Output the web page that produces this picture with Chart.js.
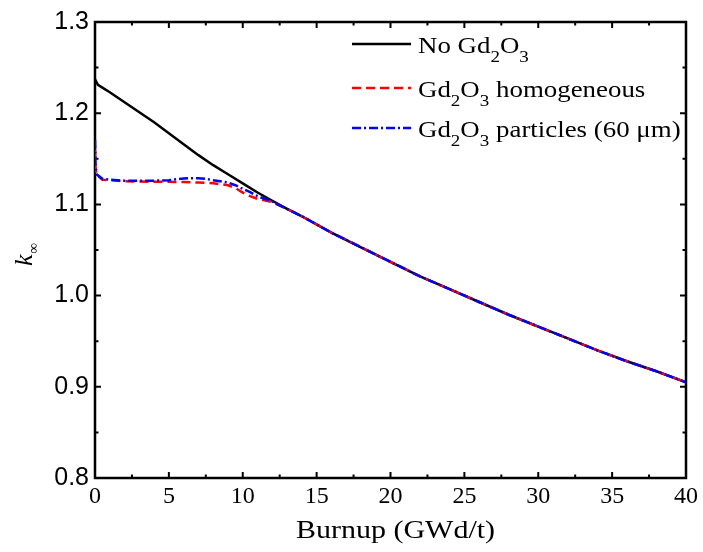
<!DOCTYPE html>
<html>
<head>
<meta charset="utf-8">
<script src="https://cdn.jsdelivr.net/npm/chart.js@4.4.1/dist/chart.umd.min.js"></script>
<style>
  html, body { margin: 0; padding: 0; background: #fff; }
  #wrap { width: 703px; height: 552px; }
</style>
</head>
<body>
<div id="wrap"><canvas id="kinfChart" width="703" height="552"></canvas></div>
<script>
// values (burnup in GWd/t, k-infinity)
const burnupNoGd = [0, 0.2, 0.5, 1, 2, 3, 4, 5, 6, 7, 8, 9, 10, 11, 12];
const kNoGd = [1.237, 1.231, 1.228, 1.223, 1.212, 1.201, 1.190, 1.178, 1.166, 1.154, 1.143, 1.133, 1.123, 1.113, 1.104];

const burnupHomog = [0, 0.03, 0.1, 0.5, 1, 2, 3, 4, 5, 6, 7, 8, 9, 9.5, 10, 10.5, 11, 12];
const kHomog = [1.160, 1.140, 1.1325, 1.127, 1.1265, 1.1255, 1.125, 1.1248, 1.1248, 1.1245, 1.124, 1.1232, 1.121, 1.118, 1.113, 1.109, 1.106, 1.1025];

const burnupPart = [0, 0.03, 0.1, 0.5, 1, 2, 3, 4, 5, 6, 7, 7.5, 8, 9, 9.5, 10, 10.5, 11, 12];
const kPart = [1.171, 1.145, 1.133, 1.128, 1.127, 1.126, 1.1258, 1.126, 1.1265, 1.1285, 1.1288, 1.128, 1.1265, 1.124, 1.121, 1.117, 1.1135, 1.109, 1.103];

// after ~13 GWd/t the three curves lie on top of each other
const burnupTail = [13, 14, 16, 18, 20, 22, 24, 26, 28, 30, 32, 34, 36, 38, 40];
const kTail = [1.095, 1.087, 1.069, 1.053, 1.037, 1.021, 1.007, 0.993, 0.979, 0.966, 0.953, 0.940, 0.928, 0.917, 0.905];

const xTicks = [0, 5, 10, 15, 20, 25, 30, 35, 40];
const yTicks = [0.8, 0.9, 1.0, 1.1, 1.2, 1.3];

// legend texts, [text, isSubscript]
const legendNoGd = [['No Gd', false], ['2', true], ['O', false], ['3', true]];
const legendHomog = [['Gd', false], ['2', true], ['O', false], ['3', true], [' homogeneous', false]];
const legendPart = [['Gd', false], ['2', true], ['O', false], ['3', true], [' particles (60 \u03bcm)', false]];

function toPoints(xs, ys) {
  return xs.map((x, i) => ({ x: x, y: ys[i] }));
}

const SERIF = '"Liberation Serif", "Times New Roman", serif';
const SANS = '"Liberation Sans", Arial, sans-serif';

function drawRich(ctx, parts, x, y, size, stretch) {
  ctx.save();
  ctx.translate(x, y);
  ctx.scale(stretch, 1);
  ctx.textBaseline = 'alphabetic';
  ctx.textAlign = 'left';
  ctx.fillStyle = '#000';
  let cx = 0;
  parts.forEach(([t, sub]) => {
    ctx.font = (sub ? Math.round(size * 0.7) : size) + 'px ' + SERIF;
    ctx.fillText(t, cx, sub ? size * 0.36 : 0);
    cx += ctx.measureText(t).width;
  });
  ctx.restore();
}

// frame, inward ticks, axis titles and legend
const framePlugin = {
  id: 'frame',
  beforeDatasetsDraw(chart) {
    const ctx = chart.ctx;
    const a = chart.chartArea;
    const xs = chart.scales.x, ys = chart.scales.y;
    ctx.save();
    ctx.strokeStyle = '#000';
    ctx.lineWidth = 2;
    ctx.beginPath();
    for (let v = 0; v <= 40; v += 2.5) {
      const px = xs.getPixelForValue(v);
      const len = (v % 5 === 0) ? 6 : 3.5;
      ctx.moveTo(px, a.bottom); ctx.lineTo(px, a.bottom - len);
      ctx.moveTo(px, a.top); ctx.lineTo(px, a.top + len);
    }
    for (let i = 0; i <= 10; i++) {
      const v = 0.8 + i * 0.05;
      const py = ys.getPixelForValue(v);
      const len = (i % 2 === 0) ? 6 : 3.5;
      ctx.moveTo(a.left, py); ctx.lineTo(a.left + len, py);
      ctx.moveTo(a.right, py); ctx.lineTo(a.right - len, py);
    }
    ctx.stroke();
    ctx.lineWidth = 2.5;
    ctx.strokeRect(a.left, a.top, a.right - a.left, a.bottom - a.top);
    ctx.restore();
  },
  afterDraw(chart) {
    const ctx = chart.ctx;
    const a = chart.chartArea;
    ctx.save();
    // x axis title
    ctx.font = '25px ' + SERIF;
    const title = 'Burnup (GWd/t)';
    const w = ctx.measureText(title).width * 1.2;
    ctx.translate((a.left + a.right) / 2 - w / 2 + 5, 538);
    ctx.scale(1.2, 1);
    ctx.fillStyle = '#000';
    ctx.textBaseline = 'alphabetic';
    ctx.fillText(title, 0, 0);
    ctx.restore();

    // y axis title: italic k with infinity subscript
    ctx.save();
    ctx.translate(32, 266);
    ctx.rotate(-Math.PI / 2);
    ctx.fillStyle = '#000';
    ctx.textBaseline = 'alphabetic';
    ctx.font = 'italic 26px ' + SERIF;
    ctx.fillText('k', 0, 0);
    const kw = ctx.measureText('k').width;
    ctx.font = '15px ' + SERIF;
    ctx.fillText('\u221e', kw + 1, 6);
    ctx.restore();

    // legend
    const rows = [
      { parts: legendNoGd, y: 44, color: '#000', dash: [] },
      { parts: legendHomog, y: 88, color: '#ff0000', dash: [9, 5] },
      { parts: legendPart, y: 128, color: '#0000ff', dash: [9, 3, 2, 3] }
    ];
    rows.forEach(r => {
      ctx.save();
      ctx.strokeStyle = r.color;
      ctx.lineWidth = 2.5;
      ctx.setLineDash(r.dash);
      ctx.beginPath();
      ctx.moveTo(352, r.y);
      ctx.lineTo(411, r.y);
      ctx.stroke();
      ctx.restore();
      drawRich(ctx, r.parts, 418, r.y + 9, 24, 1.12);
    });
  }
};

const ctx = document.getElementById('kinfChart').getContext('2d');
new Chart(ctx, {
  type: 'line',
  data: {
    datasets: [
      {
        label: 'No Gd2O3',
        data: toPoints(burnupNoGd.concat(burnupTail), kNoGd.concat(kTail)),
        borderColor: '#000000',
        borderWidth: 2.5,
        order: 3
      },
      {
        label: 'Gd2O3 homogeneous',
        data: toPoints(burnupHomog.concat(burnupTail), kHomog.concat(kTail)),
        borderColor: '#ff0000',
        borderWidth: 2.5,
        borderDash: [9, 5],
        order: 2
      },
      {
        label: 'Gd2O3 particles (60 \u03bcm)',
        data: toPoints(burnupPart.concat(burnupTail), kPart.concat(kTail)),
        borderColor: '#0000ff',
        borderWidth: 2.5,
        borderDash: [9, 3, 2, 3],
        order: 1
      }
    ]
  },
  options: {
    responsive: false,
    animation: false,
    parsing: false,
    elements: {
      point: { radius: 0 },
      line: { tension: 0, fill: false }
    },
    layout: { padding: { top: 22, right: 17, left: 0, bottom: 0 } },
    plugins: {
      legend: { display: false },
      tooltip: { enabled: false }
    },
    scales: {
      x: {
        type: 'linear',
        min: 0,
        max: 40,
        afterBuildTicks: s => { s.ticks = xTicks.map(v => ({ value: v })); },
        afterFit: s => { s.height = 74; },
        grid: { display: false, drawTicks: false },
        border: { display: false },
        ticks: {
          padding: 4,
          color: '#000',
          font: { family: SERIF, size: 24 },
          callback: v => String(v)
        }
      },
      y: {
        type: 'linear',
        min: 0.8,
        max: 1.3,
        afterBuildTicks: s => { s.ticks = yTicks.map(v => ({ value: v })); },
        afterFit: s => { s.width = 95; },
        grid: { display: false, drawTicks: false },
        border: { display: false },
        ticks: {
          padding: 6,
          color: '#000',
          font: { family: SANS, size: 25 },
          callback: v => Number(v).toFixed(1)
        }
      }
    }
  },
  plugins: [framePlugin]
});
</script>
</body>
</html>
